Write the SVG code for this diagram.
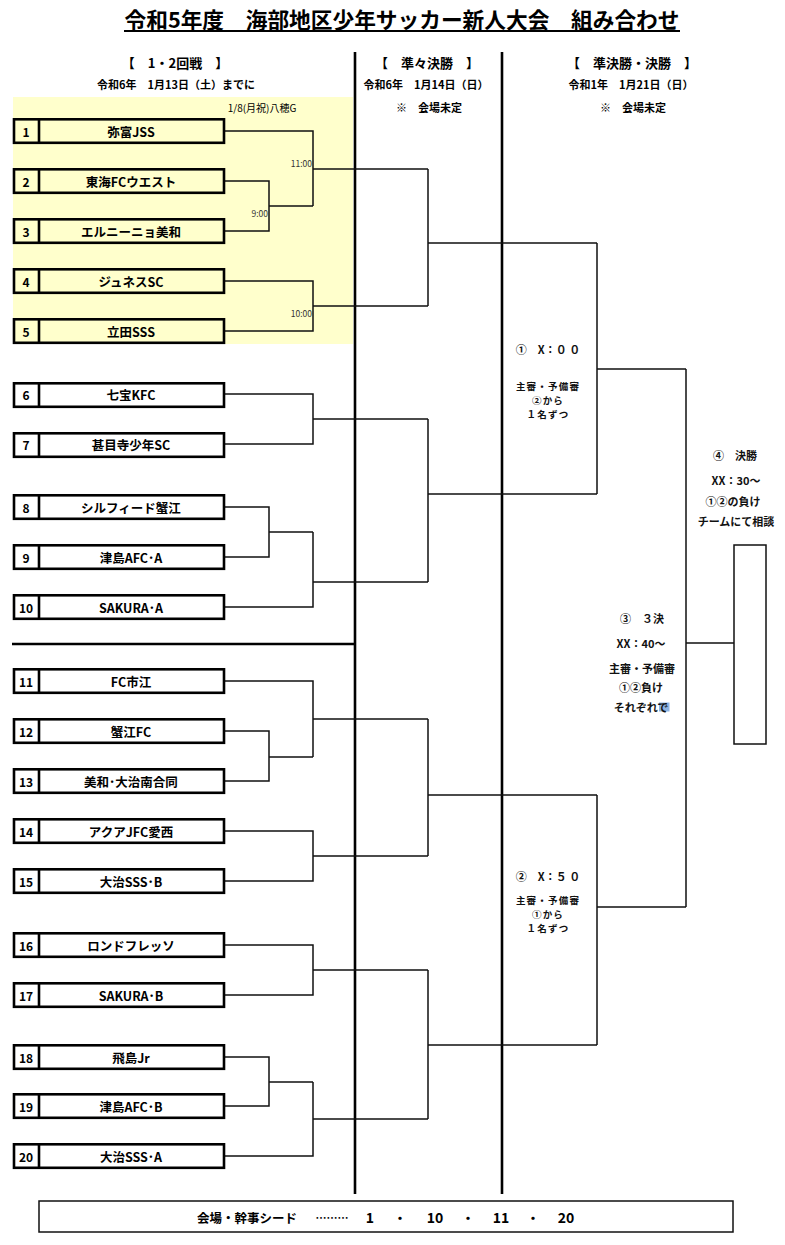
<svg xmlns="http://www.w3.org/2000/svg" width="785" height="1245" viewBox="0 0 785 1245">
<style>
text{font-family:"Noto Sans CJK JP","Noto Sans",sans-serif;fill:#000;dominant-baseline:central}
.b{font-weight:700}
.h{font-size:13px;font-weight:700;text-anchor:middle}
.hs{font-size:11px;font-weight:700;text-anchor:middle}
.box{fill:none;stroke:#000;stroke-width:2.6}
.num{font-size:12px;font-weight:700;text-anchor:middle}
.name{font-size:12.5px;font-weight:700;text-anchor:middle}
.t{font-size:8.5px;fill:#333;text-anchor:end}
.c{font-size:11px;font-weight:700;text-anchor:middle;fill:#111}
.cs{font-size:9.5px;font-weight:700;text-anchor:middle;fill:#111;letter-spacing:1.2px}
.con path{fill:none;stroke:#111;stroke-width:1.5}
.col{stroke:#000;stroke-width:2.6}
</style>
<rect width="785" height="1245" fill="#fff"/>
<rect x="13" y="97" width="340" height="247" fill="#FFFFCC"/>

<g id="title">
<text x="402" y="18" class="b" font-size="21.5" text-anchor="middle" textLength="555" lengthAdjust="spacingAndGlyphs">令和5年度　海部地区少年サッカー新人大会　組み合わせ</text>
<line x1="124" y1="31" x2="680" y2="31" stroke="#000" stroke-width="2"/>
</g>

<g id="headers">
<text x="175" y="62" class="h">【　1・2回戦　】</text>
<text x="176" y="84" class="hs" font-size="11.5">令和6年　1月13日（土）までに</text>
<text x="427" y="62" class="h">【　準々決勝　】</text>
<text x="426" y="84" class="hs" font-size="10.5">令和6年　1月14日（日）</text>
<text x="429" y="107" class="hs">※　会場未定</text>
<text x="632" y="62" class="h">【　準決勝・決勝　】</text>
<text x="631" y="84" class="hs">令和1年　1月21日（日）</text>
<text x="633" y="107" class="hs">※　会場未定</text>
<text x="262" y="107" font-size="10" fill="#333" text-anchor="middle">1/8(月祝)八穂G</text>
<text x="312" y="163" class="t">11:00</text>
<text x="268" y="213" class="t">9:00</text>
<text x="312" y="313" class="t">10:00</text>
</g>

<g id="frame">
<line class="col" x1="355" y1="52" x2="355" y2="1194"/>
<line class="col" x1="502" y1="52" x2="502" y2="1194"/>
<line class="col" x1="12" y1="644" x2="355" y2="644"/>
</g>

<g class="con" id="connectors">
<path d="M225,131H313V206M225,181H269V231H225M269,206H313M313,169H428M225,281H313V331H225M313,306H428M428,169V306M428,243H597"/>
<path d="M225,394H313V444H225M313,419H428M225,507H269V557H225M269,532H313M225,607H313V532M313,582H428M428,419V582M428,494H597M597,243V494M597,369H686"/>
<path d="M225,681H313V757M225,731H269V781H225M269,757H313M313,719H428M225,831H313V881H225M313,856H428M428,719V856M428,795H597"/>
<path d="M225,945H313V995H225M313,970H428M225,1057H269V1106H225M269,1082H313M225,1156H313V1082M313,1119H428M428,970V1119M428,1045H597M597,795V1045M597,907H686M686,369V907M686,643H734"/>
</g>

<g id="team1"><rect class="box" x="14" y="119.3" width="210" height="23.5"/><line class="col" x1="39" y1="119" x2="39" y2="143"/><text class="num" x="26" y="131">1</text><text class="name" x="131" y="131">弥富JSS</text></g>
<g id="team2"><rect class="box" x="14" y="169.3" width="210" height="23.5"/><line class="col" x1="39" y1="169" x2="39" y2="193"/><text class="num" x="26" y="181">2</text><text class="name" x="131" y="181">東海FCウエスト</text></g>
<g id="team3"><rect class="box" x="14" y="219.3" width="210" height="23.5"/><line class="col" x1="39" y1="219" x2="39" y2="243"/><text class="num" x="26" y="231">3</text><text class="name" x="131" y="231">エルニーニョ美和</text></g>
<g id="team4"><rect class="box" x="14" y="269.3" width="210" height="23.5"/><line class="col" x1="39" y1="269" x2="39" y2="293"/><text class="num" x="26" y="281">4</text><text class="name" x="131" y="281">ジュネスSC</text></g>
<g id="team5"><rect class="box" x="14" y="319.3" width="210" height="23.5"/><line class="col" x1="39" y1="319" x2="39" y2="343"/><text class="num" x="26" y="331">5</text><text class="name" x="131" y="331">立田SSS</text></g>
<g id="team6"><rect class="box" x="14" y="383.3" width="210" height="23.5"/><line class="col" x1="39" y1="383" x2="39" y2="407"/><text class="num" x="26" y="394">6</text><text class="name" x="131" y="394">七宝KFC</text></g>
<g id="team7"><rect class="box" x="14" y="433.3" width="210" height="23.5"/><line class="col" x1="39" y1="433" x2="39" y2="457"/><text class="num" x="26" y="444">7</text><text class="name" x="131" y="444">甚目寺少年SC</text></g>
<g id="team8"><rect class="box" x="14" y="495.3" width="210" height="23.5"/><line class="col" x1="39" y1="495" x2="39" y2="519"/><text class="num" x="26" y="507">8</text><text class="name" x="131" y="507">シルフィード蟹江</text></g>
<g id="team9"><rect class="box" x="14" y="545.3" width="210" height="23.5"/><line class="col" x1="39" y1="545" x2="39" y2="569"/><text class="num" x="26" y="557">9</text><text class="name" x="131" y="557">津島AFC･A</text></g>
<g id="team10"><rect class="box" x="14" y="595.3" width="210" height="23.5"/><line class="col" x1="39" y1="595" x2="39" y2="619"/><text class="num" x="26" y="607">10</text><text class="name" x="131" y="607">SAKURA･A</text></g>
<g id="team11"><rect class="box" x="14" y="669.3" width="210" height="23.5"/><line class="col" x1="39" y1="669" x2="39" y2="693"/><text class="num" x="26" y="681">11</text><text class="name" x="131" y="681">FC市江</text></g>
<g id="team12"><rect class="box" x="14" y="719.3" width="210" height="23.5"/><line class="col" x1="39" y1="719" x2="39" y2="743"/><text class="num" x="26" y="731">12</text><text class="name" x="131" y="731">蟹江FC</text></g>
<g id="team13"><rect class="box" x="14" y="769.3" width="210" height="23.5"/><line class="col" x1="39" y1="769" x2="39" y2="793"/><text class="num" x="26" y="781">13</text><text class="name" x="131" y="781">美和･大治南合同</text></g>
<g id="team14"><rect class="box" x="14" y="819.3" width="210" height="23.5"/><line class="col" x1="39" y1="819" x2="39" y2="843"/><text class="num" x="26" y="831">14</text><text class="name" x="131" y="831">アクアJFC愛西</text></g>
<g id="team15"><rect class="box" x="14" y="869.3" width="210" height="23.5"/><line class="col" x1="39" y1="869" x2="39" y2="893"/><text class="num" x="26" y="881">15</text><text class="name" x="131" y="881">大治SSS･B</text></g>
<g id="team16"><rect class="box" x="14" y="933.3" width="210" height="23.5"/><line class="col" x1="39" y1="933" x2="39" y2="957"/><text class="num" x="26" y="945">16</text><text class="name" x="131" y="945">ロンドフレッソ</text></g>
<g id="team17"><rect class="box" x="14" y="983.3" width="210" height="23.5"/><line class="col" x1="39" y1="983" x2="39" y2="1007"/><text class="num" x="26" y="995">17</text><text class="name" x="131" y="995">SAKURA･B</text></g>
<g id="team18"><rect class="box" x="14" y="1045.3" width="210" height="23.5"/><line class="col" x1="39" y1="1045" x2="39" y2="1069"/><text class="num" x="26" y="1057">18</text><text class="name" x="131" y="1057">飛島Jr</text></g>
<g id="team19"><rect class="box" x="14" y="1094.3" width="210" height="23.5"/><line class="col" x1="39" y1="1094" x2="39" y2="1118"/><text class="num" x="26" y="1106">19</text><text class="name" x="131" y="1106">津島AFC･B</text></g>
<g id="team20"><rect class="box" x="14" y="1144.3" width="210" height="23.5"/><line class="col" x1="39" y1="1144" x2="39" y2="1168"/><text class="num" x="26" y="1156">20</text><text class="name" x="131" y="1156">大治SSS･A</text></g>

<g id="semi1">
<text class="c" x="548" y="349">①　X：０ ０</text>
<text class="cs" x="548" y="386">主審・予備審</text>
<text class="cs" x="548" y="399.8">②から</text>
<text class="cs" x="548" y="413.6">１名ずつ</text>
</g>
<g id="semi2">
<text class="c" x="548" y="876">②　X：５ ０</text>
<text class="cs" x="548" y="900">主審・予備審</text>
<text class="cs" x="548" y="913.8">①から</text>
<text class="cs" x="548" y="927.6">１名ずつ</text>
</g>
<g id="final">
<text class="c" x="735" y="455" font-size="12">④　決勝</text>
<text class="c" x="736" y="480" font-size="13">XX：30～</text>
<text class="c" x="733" y="501">①②の負け</text>
<text class="c" x="736" y="521">チームにて相談</text>
<rect x="734" y="545" width="32" height="199" fill="none" stroke="#111" stroke-width="1.5"/>
</g>
<g id="third">
<text class="c" x="642" y="618" font-size="12">③　３決</text>
<text class="c" x="641" y="643" font-size="13">XX：40～</text>
<text class="c" x="642" y="668">主審・予備審</text>
<text class="c" x="641" y="687">①②負け</text>
<rect x="659" y="702.5" width="10.5" height="9" fill="#8EB4E3"/>
<text class="c" x="641" y="707">それぞれで</text>
</g>

<g id="footer">
<rect x="39" y="1201" width="694" height="31" fill="none" stroke="#111" stroke-width="1.5"/>
<text x="247" y="1217" class="b" font-size="12.5" text-anchor="middle">会場・幹事シード</text>
<text x="332" y="1217" class="b" font-size="11" text-anchor="middle">………</text>
<text x="370" y="1217" class="b" font-size="14" text-anchor="middle">1</text>
<text x="400" y="1217" class="b" font-size="13" text-anchor="middle">・</text>
<text x="435" y="1217" class="b" font-size="14" text-anchor="middle">10</text>
<text x="468" y="1217" class="b" font-size="13" text-anchor="middle">・</text>
<text x="501" y="1217" class="b" font-size="14" text-anchor="middle">11</text>
<text x="533" y="1217" class="b" font-size="13" text-anchor="middle">・</text>
<text x="566" y="1217" class="b" font-size="14" text-anchor="middle">20</text>
</g>
</svg>
